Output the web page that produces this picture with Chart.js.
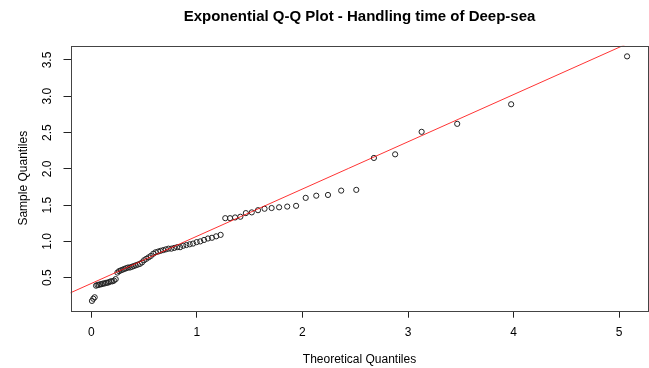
<!DOCTYPE html>
<html>
<head>
<meta charset="utf-8">
<script src="https://cdn.jsdelivr.net/npm/chart.js@4.4.1/dist/chart.umd.min.js"></script>
<style>
  html, body { margin: 0; padding: 0; background: #ffffff; }
  #wrap { width: 649px; height: 368px; }
</style>
</head>
<body>
<div id="wrap"><canvas id="c" width="649" height="368"></canvas></div>
<script>
// ---- Data ----
const chartTitle = "Exponential Q-Q Plot - Handling time of Deep-sea";
const xAxisTitle = "Theoretical Quantiles";
const yAxisTitle = "Sample Quantiles";

const theoreticalQuantiles = [
  0.006,0.019,0.032,0.045,0.058,0.071,0.085,0.098,0.112,0.126,
  0.141,0.155,0.170,0.185,0.200,0.215,0.231,0.247,0.263,0.279,
  0.296,0.313,0.330,0.348,0.366,0.384,0.402,0.421,0.440,0.460,
  0.480,0.500,0.521,0.543,0.564,0.587,0.609,0.633,0.656,0.681,
  0.706,0.731,0.758,0.785,0.813,0.841,0.871,0.901,0.932,0.964,
  0.998,1.032,1.068,1.105,1.143,1.183,1.225,1.269,1.314,1.362,
  1.412,1.464,1.520,1.579,1.641,1.708,1.779,1.856,1.940,2.031,
  2.131,2.242,2.367,2.510,2.677,2.878,3.129,3.466,3.977,5.075
];
const sampleQuantiles = [
  0.18,0.21,0.23,0.39,0.40,0.40,0.41,0.41,0.42,0.42,
  0.43,0.43,0.44,0.45,0.45,0.46,0.48,0.57,0.59,0.60,
  0.61,0.62,0.63,0.64,0.64,0.65,0.66,0.67,0.68,0.69,
  0.71,0.74,0.76,0.78,0.80,0.83,0.85,0.86,0.87,0.88,
  0.89,0.90,0.90,0.91,0.92,0.92,0.94,0.95,0.96,0.97,
  0.99,1.00,1.02,1.04,1.05,1.07,1.09,1.32,1.32,1.33,
  1.34,1.39,1.40,1.43,1.45,1.46,1.47,1.48,1.49,1.60,
  1.63,1.64,1.70,1.71,2.15,2.20,2.51,2.62,2.89,3.55
];
// reference (qqline) end points
const refLineX = [-0.2, 5.3];
const refLineY = [0.29, 3.87];

const xTickValues = [0, 1, 2, 3, 4, 5];
const yTickValues = [0.5, 1.0, 1.5, 2.0, 2.5, 3.0, 3.5];
const yTickLabels = ["0.5", "1.0", "1.5", "2.0", "2.5", "3.0", "3.5"];

// ---- Build chart ----
const FONT = "'Liberation Sans', Arial, Helvetica, sans-serif";
const points = theoreticalQuantiles.map((x, i) => ({ x: x, y: sampleQuantiles[i] }));
const linePts = refLineX.map((x, i) => ({ x: x, y: refLineY[i] }));

const boxPlugin = {
  id: 'rbox',
  afterDraw(chart) {
    const { ctx, chartArea: a, scales } = chart;
    ctx.save();
    ctx.strokeStyle = '#444';
    ctx.lineWidth = 1;
    ctx.strokeRect(Math.round(a.left) + 0.5, Math.round(a.top) + 0.5,
                   Math.round(a.right - a.left) - 1, Math.round(a.bottom - a.top));
    // y tick labels, rotated like R
    const ys = scales.y;
    ctx.fillStyle = '#000';
    ctx.font = "12px " + FONT;
    ctx.textAlign = 'center';
    ctx.textBaseline = 'middle';
    yTickValues.forEach((v, i) => {
      const py = ys.getPixelForValue(v);
      ctx.save();
      ctx.translate(48, py);
      ctx.rotate(-Math.PI / 2);
      ctx.fillText(yTickLabels[i], 0, 0);
      ctx.restore();
    });
    ctx.restore();
  }
};

new Chart(document.getElementById('c'), {
  type: 'scatter',
  data: {
    datasets: [
      {
        type: 'line',
        data: linePts,
        borderColor: 'rgba(255,0,0,0.8)',
        borderWidth: 1,
        pointRadius: 0,
        fill: false,
        tension: 0,
        order: 0
      },
      {
        data: points,
        pointStyle: 'circle',
        pointRadius: 2.6,
        pointBorderWidth: 1,
        pointBorderColor: '#222',
        pointBackgroundColor: 'rgba(0,0,0,0)',
        order: 1
      }
    ]
  },
  options: {
    responsive: false,
    animation: false,
    devicePixelRatio: 1,
    layout: { autoPadding: false, padding: { left: 0, right: 0.5, top: 0, bottom: 0 } },
    plugins: {
      legend: { display: false },
      tooltip: { enabled: false },
      title: {
        display: true,
        text: chartTitle,
        fullSize: false,
        color: '#000',
        font: { family: FONT, size: 15, weight: 'bold' },
        padding: { top: 8, bottom: 19.7 }
      }
    },
    scales: {
      x: {
        type: 'linear',
        min: -0.197,
        max: 5.278,
        afterBuildTicks(scale) { scale.ticks = xTickValues.map(v => ({ value: v })); },
        afterFit(scale) { scale.height = 57.3; scale.paddingLeft = 0; scale.paddingRight = 0; },
        grid: { drawOnChartArea: false, drawTicks: true, tickLength: 7, color: '#222', lineWidth: 1 },
        border: { display: false },
        ticks: {
          color: '#000',
          font: { family: FONT, size: 12 },
          padding: 8,
          maxRotation: 0,
          autoSkip: false,
          includeBounds: false
        },
        title: {
          display: true,
          text: xAxisTitle,
          color: '#000',
          font: { family: FONT, size: 12 },
          padding: { top: 0, bottom: 1.5 }
        }
      },
      y: {
        type: 'linear',
        min: 0.045,
        max: 3.697,
        afterBuildTicks(scale) { scale.ticks = yTickValues.map(v => ({ value: v })); },
        afterFit(scale) { scale.width = 70.5; scale.paddingTop = 0; scale.paddingBottom = 0; },
        grid: { drawOnChartArea: false, drawTicks: true, tickLength: 7, color: '#222', lineWidth: 1 },
        border: { display: false },
        ticks: { display: false, includeBounds: false },
        title: {
          display: true,
          text: yAxisTitle,
          color: '#000',
          font: { family: FONT, size: 12 },
          padding: { top: 16, bottom: 0 }
        }
      }
    }
  },
  plugins: [boxPlugin]
});
</script>
</body>
</html>
